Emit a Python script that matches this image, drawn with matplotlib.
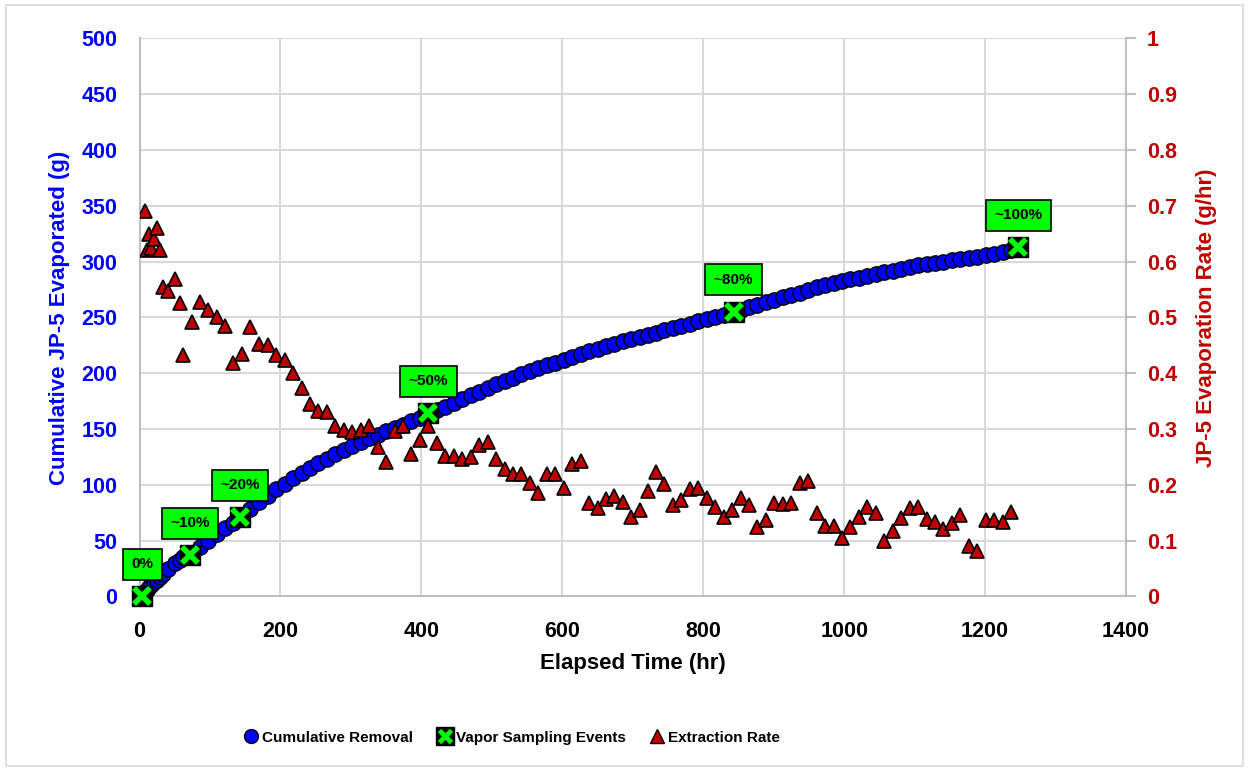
import matplotlib.pyplot as plt
from matplotlib.lines import Line2D
from matplotlib.patches import Rectangle

plt.rcParams['font.family'] = ['Liberation Sans', 'DejaVu Sans']
plt.rcParams['font.weight'] = 'bold'

# elapsed time of each extraction reading (hr)
hours = [8, 11, 14, 17, 21, 25, 29, 33, 41, 51, 57, 62, 75, 86, 97, 110, 122, 133,
         146, 157, 170, 182, 194, 206, 218, 230, 242, 254, 266, 278, 290, 302, 314,
         326, 338, 350, 362, 374, 386, 398, 410, 422, 434, 446, 458, 470, 482, 494,
         506, 518, 530, 542, 554, 566, 578, 590, 602, 614, 626, 638, 650, 662, 674,
         686, 698, 710, 722, 733, 745, 757, 769, 781, 793, 805, 817, 829, 841, 853,
         865, 877, 889, 901, 913, 925, 937, 949, 961, 973, 985, 997, 1009, 1021,
         1033, 1045, 1057, 1069, 1081, 1093, 1105, 1117, 1129, 1141, 1153, 1165,
         1177, 1189, 1201, 1213, 1225, 1237]

# cumulative mass evaporated (g)
cumulative = [4, 6, 8, 10, 12.5, 15, 17.5, 20, 24.5, 30, 33, 35, 39, 44.5, 50, 55.5,
              61, 66, 72.5, 78, 84.5, 90, 96, 101, 106, 110.5, 115, 119.5, 123.5,
              127.5, 131, 134.5, 138, 141.5, 145, 148, 151, 154, 157, 160, 163.5,
              167, 170, 173.5, 177, 180, 183.5, 187, 190, 193, 196, 199.5, 202,
              204.5, 207, 209.5, 212, 214.5, 217, 219.5, 222, 224, 226.5, 228.5,
              230.5, 232, 234, 236, 238.5, 240.5, 242.5, 244.5, 246.5, 248.5, 250.5,
              252.5, 254.5, 257, 259, 261.5, 263.5, 266, 268, 270, 272, 274.5, 277,
              279, 280.5, 282.5, 284, 285.5, 287.5, 289, 290.5, 292, 293.5, 295,
              296.5, 297.5, 298.5, 299.5, 301, 302.5, 303.5, 304.5, 305.5, 307,
              308.5, 310]

# evaporation rate (g/hr)
rate = [0.69, 0.62, 0.65, 0.625, 0.64, 0.66, 0.62, 0.554, 0.548, 0.568, 0.525, 0.432,
        0.491, 0.527, 0.514, 0.50, 0.484, 0.418, 0.435, 0.482, 0.453, 0.45, 0.432,
        0.423, 0.401, 0.373, 0.344, 0.333, 0.33, 0.306, 0.299, 0.294, 0.299, 0.306,
        0.267, 0.24, 0.297, 0.306, 0.256, 0.28, 0.306, 0.274, 0.251, 0.251, 0.247,
        0.249, 0.272, 0.276, 0.247, 0.228, 0.22, 0.22, 0.203, 0.185, 0.22, 0.219,
        0.194, 0.238, 0.242, 0.168, 0.159, 0.174, 0.179, 0.17, 0.142, 0.155, 0.188,
        0.222, 0.202, 0.163, 0.172, 0.192, 0.194, 0.176, 0.161, 0.142, 0.154, 0.177,
        0.163, 0.124, 0.136, 0.168, 0.165, 0.168, 0.203, 0.206, 0.149, 0.127, 0.127,
        0.104, 0.124, 0.143, 0.161, 0.149, 0.10, 0.118, 0.14, 0.158, 0.16, 0.138,
        0.133, 0.12, 0.131, 0.145, 0.091, 0.082, 0.136, 0.136, 0.134, 0.151]

# vapor sampling events
sample_hours = [4, 72, 143, 410, 843, 1247]
sample_mass = [0, 37, 71, 164, 255, 313]
sample_labels = ['0%', '~10%', '~20%', '~50%', '~80%', '~100%']

BLUE = '#0000FF'
RED = '#C00000'
GREEN = '#00FF00'
GRID = '#D9D9D9'
SPINE = '#BFBFBF'

fig = plt.figure(figsize=(12.5, 7.71), dpi=100)
fig.patches.append(Rectangle((0.005, 0.006), 0.989, 0.988, transform=fig.transFigure,
                             fill=False, edgecolor=GRID, linewidth=1.2))
ax = fig.add_axes([0.1116, 0.2265, 0.7892, 0.7237])
ax2 = ax.twinx()

ax.plot(hours, cumulative, 'o', color=BLUE, markeredgecolor='black',
        markeredgewidth=1.0, markersize=11, zorder=3)
ax.plot(sample_hours, sample_mass, 's', color='black', markersize=15,
        zorder=4, clip_on=False)
ax.plot(sample_hours, sample_mass, 'x', color=GREEN, markersize=11,
        markeredgewidth=4, zorder=5, clip_on=False)

for h, m, lab in zip(sample_hours, sample_mass, sample_labels):
    ax.annotate(lab, (h, m), xytext=(0, 23), textcoords='offset points',
                ha='center', va='center', fontsize=11, fontweight='bold',
                bbox=dict(boxstyle='square,pad=0.55', fc=GREEN, ec='black', lw=1.2),
                zorder=6, annotation_clip=False)

ax2.plot(hours, rate, '^', color=RED, markeredgecolor='black',
         markeredgewidth=1.2, markersize=10.5, zorder=3)

ax.set_xlim(0, 1400)
ax.set_ylim(0, 500)
ax2.set_ylim(0, 1)
ax.set_xticks(range(0, 1401, 200))
ax.set_yticks(range(0, 501, 50))
ax2.set_yticks([i / 10 for i in range(11)])
ax2.set_yticklabels(['0'] + [f'{i / 10:g}' for i in range(1, 10)] + ['1'])

ax.grid(True, color=GRID, linewidth=1.5)
ax.set_axisbelow(True)

for a in (ax, ax2):
    a.spines['top'].set_visible(False)
    for s in a.spines.values():
        s.set_color(SPINE)
        s.set_linewidth(1.5)
ax.spines['right'].set_visible(False)
ax2.spines['left'].set_visible(False)
ax2.spines['bottom'].set_visible(False)

for lbl in ax.get_xticklabels() + ax.get_yticklabels() + ax2.get_yticklabels():
    lbl.set_fontweight('bold')
ax.tick_params(axis='x', length=0, labelsize=15.5, labelcolor='black', pad=18)
ax.tick_params(axis='y', length=0, labelsize=15.5, labelcolor=BLUE, pad=16)
ax2.tick_params(axis='y', length=7, width=1.5, color=SPINE, labelsize=15.5,
                labelcolor=RED, pad=8)

ax.set_xlabel('Elapsed Time (hr)', fontsize=16, fontweight='bold', labelpad=8)
ax.set_ylabel('Cumulative JP-5 Evaporated (g)', fontsize=16, fontweight='bold',
              color=BLUE, labelpad=8)
ax2.set_ylabel('JP-5 Evaporation Rate (g/hr)', fontsize=16, fontweight='bold',
               color=RED, labelpad=14)

h_cum = Line2D([], [], ls='none', marker='o', color=BLUE, markeredgecolor='black',
               markersize=10)
h_box = Line2D([], [], ls='none', marker='s', color='black', markersize=13)
h_x = Line2D([], [], ls='none', marker='x', color=GREEN, markersize=9,
             markeredgewidth=3.5)
h_rate = Line2D([], [], ls='none', marker='^', color=RED, markeredgecolor='black',
                markersize=10)
fig.legend([h_cum, (h_box, h_x), h_rate],
           ['Cumulative Removal', 'Vapor Sampling Events', 'Extraction Rate'],
           loc='center', bbox_to_anchor=(0.41, 0.043), ncol=3, frameon=False,
           handlelength=0.8, handletextpad=0.3, columnspacing=1.7,
           prop={'weight': 'bold', 'size': 11})

fig.savefig('out.png', dpi=100)
